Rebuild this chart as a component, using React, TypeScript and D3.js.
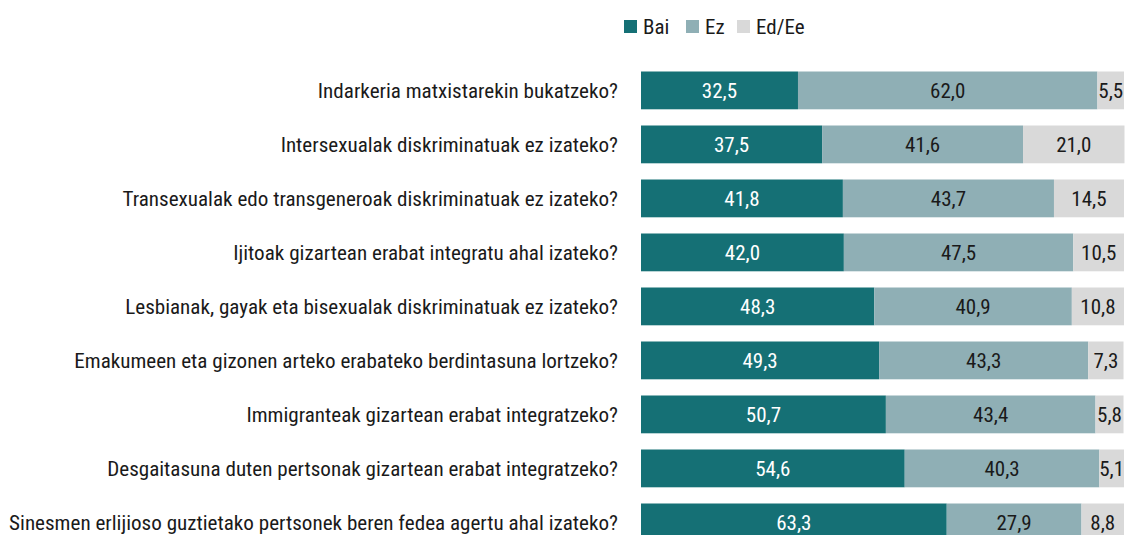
import React from "react";
import * as d3 from "d3";

const categories = [
  "Indarkeria matxistarekin bukatzeko?",
  "Intersexualak diskriminatuak ez izateko?",
  "Transexualak edo transgeneroak diskriminatuak ez izateko?",
  "Ijitoak gizartean erabat integratu ahal izateko?",
  "Lesbianak, gayak eta bisexualak diskriminatuak ez izateko?",
  "Emakumeen eta gizonen arteko erabateko berdintasuna lortzeko?",
  "Immigranteak gizartean erabat integratzeko?",
  "Desgaitasuna duten pertsonak gizartean erabat integratzeko?",
  "Sinesmen erlijioso guztietako pertsonek beren fedea agertu ahal izateko?",
];
const bai = [32.5, 37.5, 41.8, 42.0, 48.3, 49.3, 50.7, 54.6, 63.3];
const ez = [62.0, 41.6, 43.7, 47.5, 40.9, 43.3, 43.4, 40.3, 27.9];
const edee = [5.5, 21.0, 14.5, 10.5, 10.8, 7.3, 5.8, 5.1, 8.8];
const seriesNames = ["Bai", "Ez", "Ed/Ee"];
const colors = ["#157075", "#8fafb5", "#d9d9d9"];
const textColors = ["#ffffff", "#1a1a1a", "#1a1a1a"];

const W = 1126;
const H = 535;
const FONT = "'Liberation Sans Narrow', 'Roboto Condensed', 'Arial Narrow', sans-serif";

export default function App() {
  const x = d3.scaleLinear().domain([0, 100]).range([641, 1124]);
  const y = d3
    .scaleBand()
    .domain(categories)
    .range([63.4, 63.4 + 54 * categories.length])
    .paddingInner(0.3)
    .paddingOuter(0.15);

  const rows = categories.map((c, i) => ({ cat: c, Bai: bai[i], Ez: ez[i], "Ed/Ee": edee[i] }));
  const stacked = d3.stack<any>().keys(seriesNames)(rows);
  const fmt = (v: number) => v.toFixed(1).replace(".", ",");

  const legendX = [624, 686, 737];

  return (
    <svg width={W} height={H} style={{ position: "absolute", left: 0, top: 0, fontFamily: FONT }}>
      <g>
        {seriesNames.map((s, i) => (
          <g key={s} transform={`translate(${legendX[i]},20)`}>
            <rect width={13} height={13} fill={colors[i]} />
            <text x={19} y={7} dy="0.35em" fontSize={21} fill="#1a1a1a">
              {s}
            </text>
          </g>
        ))}
      </g>
      {categories.map((c) => (
        <text
          key={c}
          x={618}
          y={(y(c) as number) + y.bandwidth() / 2}
          dy="0.35em"
          textAnchor="end"
          fontSize={21.1}
          fill="#1a1a1a"
        >
          {c}
        </text>
      ))}
      {stacked.map((layer, si) => (
        <g key={layer.key}>
          {layer.map((d, i) => {
            const x0 = x(d[0]);
            const x1 = x(d[1]);
            const yy = y(categories[i]) as number;
            return (
              <g key={i}>
                <rect x={x0} y={yy} width={x1 - x0} height={y.bandwidth()} fill={colors[si]} />
                <text
                  x={(x0 + x1) / 2}
                  y={yy + y.bandwidth() / 2}
                  dy="0.35em"
                  textAnchor="middle"
                  fontSize={21}
                  fill={textColors[si]}
                >
                  {fmt(d[1] - d[0])}
                </text>
              </g>
            );
          })}
        </g>
      ))}
    </svg>
  );
}
